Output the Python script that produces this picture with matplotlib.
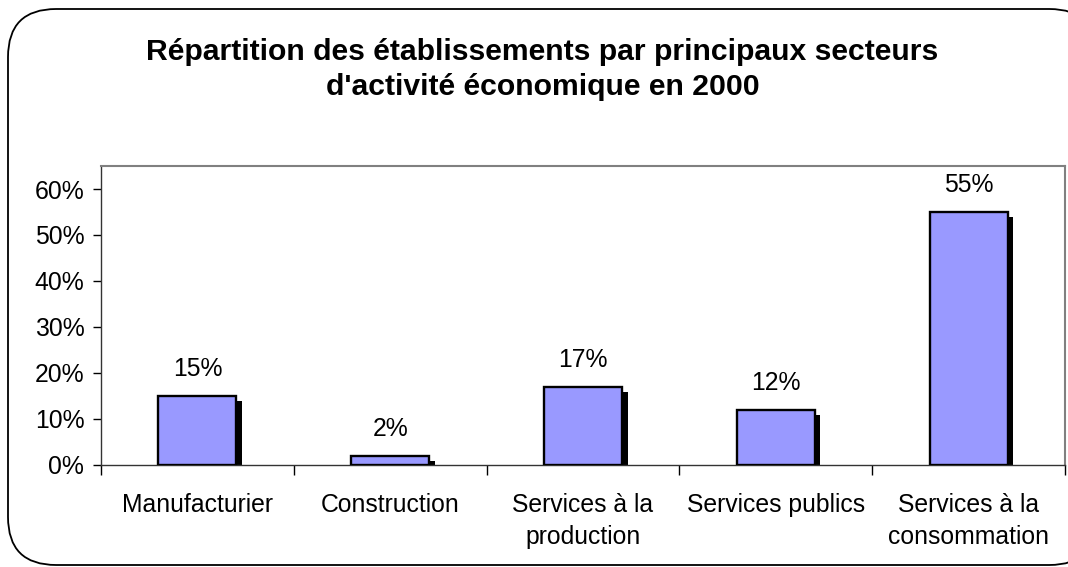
# Répartition des établissements par secteur (2000)
import numpy as np
import matplotlib.pyplot as plt
import matplotlib.transforms as mtransforms
from matplotlib.patches import FancyBboxPatch

plt.rcParams['font.family'] = ['Liberation Sans', 'DejaVu Sans']

secteurs = ['Manufacturier', 'Construction', 'Services à la\nproduction',
            'Services publics', 'Services à la\nconsommation']
parts = [0.15, 0.02, 0.17, 0.12, 0.55]
etiquettes = ['15%', '2%', '17%', '12%', '55%']
graduations = [0, 0.1, 0.2, 0.3, 0.4, 0.5, 0.6]

fig = plt.figure(figsize=(10.68, 5.67), dpi=100)

# cadre arrondi autour du graphique
cadre = FancyBboxPatch((8 / 1068, 2 / 567), 1.02, 556 / 567,
                       boxstyle='round,pad=0,rounding_size=0.045',
                       transform=fig.transFigure, facecolor='white',
                       edgecolor='black', linewidth=1.3, zorder=-1,
                       mutation_aspect=1068 / 567)
fig.patches.append(cadre)

ax = fig.add_axes([101 / 1068, 102 / 567, 964 / 1068, 299 / 567])
ax.set_facecolor('none')
ax.set_zorder(2)

x = np.arange(len(secteurs))

# ombres décalées vers la droite et vers le bas
ombres = ax.bar(x, parts, width=0.405, color='black', zorder=2)
decalage = mtransforms.ScaledTranslation(0.055, -0.05, fig.dpi_scale_trans)
for p in ombres:
    p.set_transform(ax.transData + decalage)

barres = ax.bar(x, parts, width=0.405, color='#9999FF', edgecolor='black',
                linewidth=1.7, zorder=3)

for xi, v, t in zip(x, parts, etiquettes):
    ax.annotate(t, (xi, v), xytext=(0, 10.5), textcoords='offset points',
                ha='center', va='bottom', fontsize=17.8)

ax.set_xlim(-0.5, len(secteurs) - 0.5)
ax.set_ylim(0, 0.65)
ax.set_yticks(graduations)
ax.set_yticklabels(['%d%%' % round(g * 100) for g in graduations], fontsize=17.8)

ax.set_xticks(x)
ax.set_xticklabels(secteurs, fontsize=17.8, linespacing=1.45)
ax.set_xticks(np.arange(len(secteurs) + 1) - 0.5, minor=True)
ax.tick_params(axis='x', which='major', length=0, pad=20)
ax.tick_params(axis='x', which='minor', length=7, width=1, direction='out')
ax.tick_params(axis='y', length=6, width=1, direction='out', pad=6)

for s in ['top', 'right']:
    ax.spines[s].set_color('#808080')
    ax.spines[s].set_linewidth(1.5)
for s in ['left', 'bottom']:
    ax.spines[s].set_color('#333333')
    ax.spines[s].set_linewidth(1)

fig.text(0.508, 0.877, "Répartition des établissements par principaux secteurs\n"
         "d'activité économique en 2000", ha='center', va='center',
         fontsize=21.7, fontweight='bold', linespacing=1.3)

fig.savefig('out.png', dpi=100)
